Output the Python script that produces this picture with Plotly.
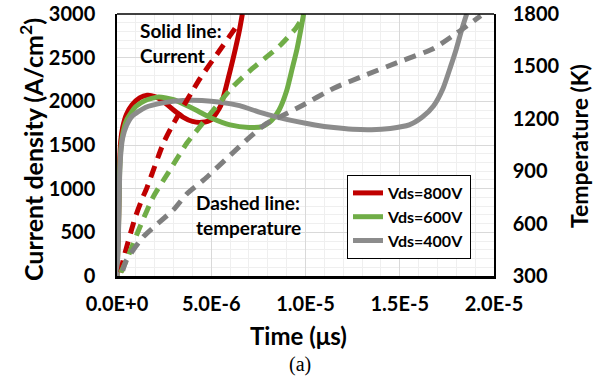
import plotly.graph_objects as go

# ---- data (time in microseconds, converted to seconds) ----
t_red = [0.0, 0.08, 0.14, 0.2, 0.3, 0.5, 0.8, 1.2, 1.6, 2.0, 2.5, 3.0, 3.5, 4.0, 4.5, 5.0, 5.5, 6.0, 6.3, 6.5, 6.65]
j_red = [0, 600, 1300, 1550, 1700, 1850, 1960, 2040, 2070, 2055, 1990, 1900, 1820, 1770, 1760, 1790, 1950, 2350, 2620, 2820, 3000]

t_green = [0.0, 0.08, 0.14, 0.2, 0.3, 0.5, 1.0, 1.5, 2.2, 3.0, 4.0, 5.0, 6.0, 7.0, 7.7, 8.2, 8.6, 9.0, 9.3, 9.55, 9.75, 9.9]
j_green = [0, 550, 1200, 1450, 1620, 1780, 1940, 2010, 2050, 2020, 1920, 1810, 1730, 1700, 1710, 1780, 1900, 2120, 2380, 2600, 2820, 3000]

t_gray = [0.0, 0.08, 0.14, 0.2, 0.3, 0.5, 0.8, 1.5, 2.5, 3.5, 4.5, 5.5, 6.5, 7.5, 8.5, 9.5, 10.5, 11.5, 12.5, 13.5, 14.5, 15.5, 16.2, 16.8, 17.3, 17.7, 18.0, 18.3, 18.55]
j_gray = [0, 500, 1150, 1400, 1580, 1720, 1830, 1930, 1985, 2010, 2010, 1990, 1950, 1880, 1820, 1770, 1730, 1700, 1680, 1675, 1690, 1730, 1820, 1950, 2150, 2400, 2600, 2830, 3000]

tt_red = [0.2, 0.33, 0.95, 1.38, 1.57, 2.46, 3.0, 4.4, 5.46, 6.15, 6.45]
temp_red = [320, 392, 630, 754, 800, 1060, 1174, 1430, 1594, 1700, 1750]

tt_green = [0.2, 0.51, 1.22, 1.93, 2.81, 3.7, 4.4, 6.15, 7.1, 8.0, 8.65, 9.5, 9.8]
temp_green = [320, 392, 582, 754, 907, 1060, 1155, 1384, 1480, 1560, 1620, 1720, 1770]

tt_gray = [0.3, 0.5, 1.4, 3.0, 3.7, 4.6, 7.06, 7.94, 8.65, 9.7, 11.5, 13.2, 15.0, 16.8, 18.0, 19.3]
temp_gray = [330, 390, 525, 680, 770, 850, 1097, 1174, 1212, 1269, 1375, 1451, 1527, 1603, 1689, 1790]

series_names = ["Vds=800V", "Vds=600V", "Vds=400V"]
colors = ["#C00000", "#70AD47", "#8C8C8C"]
dash_colors = ["#C00000", "#70AD47", "#7F7F7F"]

x_tickvals = [0, 5e-6, 1e-5, 1.5e-5, 2e-5]
x_ticktext = ["0.0E+0", "5.0E-6", "1.0E-5", "1.5E-5", "2.0E-5"]

def sec(us):
    return [v * 1e-6 for v in us]

FONT = "Lato"
fig = go.Figure()

currents = [(t_red, j_red), (t_green, j_green), (t_gray, j_gray)]
temps = [(tt_red, temp_red), (tt_green, temp_green), (tt_gray, temp_gray)]

for (tt, tv), c in zip(temps, dash_colors):
    fig.add_trace(go.Scatter(x=sec(tt), y=tv, mode="lines", yaxis="y2", showlegend=False,
                             line=dict(color=c, width=5, dash="12px,8px", shape="spline", smoothing=0.6)))

for (t, j), c, n in zip(currents, colors, series_names):
    fig.add_trace(go.Scatter(x=sec(t), y=j, mode="lines", name=n,
                             line=dict(color=c, width=5, shape="spline", smoothing=0.6)))

L, R, T, B = 117, 494, 14, 276
W, H = 600, 386

def px(x):
    return (x - L) / (R - L)

def py(y):
    return (B - y) / (B - T)

TICKF = dict(family=FONT, size=20, weight="bold")

fig.update_layout(
    width=W, height=H,
    margin=dict(l=L, r=W - R, t=T, b=H - B, autoexpand=False),
    paper_bgcolor="white", plot_bgcolor="white",
    font=dict(family=FONT, color="black"),
    xaxis=dict(range=[0, 2e-5], tickvals=x_tickvals, ticktext=x_ticktext, automargin=False,
               showgrid=True, gridcolor="#D9D9D9", gridwidth=1,
               minor=dict(dtick=1e-6, showgrid=True, gridcolor="#EFEFEF", gridwidth=1),
               tickfont=TICKF, ticks="", ticklabelstandoff=8,
               showline=True, linecolor="black", linewidth=2.5, mirror=False, zeroline=False),
    yaxis=dict(range=[0, 3000], dtick=500, showgrid=True, gridcolor="#D9D9D9", gridwidth=1,
               minor=dict(dtick=100, showgrid=True, gridcolor="#EFEFEF", gridwidth=1),
               tickfont=TICKF, automargin=False,
               ticks="", ticklabelstandoff=16, zeroline=False,
               showline=True, linecolor="black", linewidth=1.5),
    yaxis2=dict(range=[300, 1800], dtick=300, overlaying="y", side="right", automargin=False,
                showgrid=False, zeroline=False,
                tickfont=TICKF, ticks="", ticklabelstandoff=13,
                showline=True, linecolor="black", linewidth=1.5),
    legend=dict(x=px(347), y=py(175), xanchor="left", yanchor="top",
                bgcolor="white", bordercolor="black", borderwidth=1,
                font=dict(family=FONT, size=16, weight="bold"),
                itemwidth=30, tracegroupgap=0, itemsizing="constant"),
    showlegend=True,
)

# top border
fig.add_shape(type="line", xref="paper", yref="paper", x0=0, x1=1, y0=1, y1=1,
              line=dict(color="black", width=1.5))

ann = [
    dict(text="Solid line:<br>Current", x=px(138), y=py(17), xanchor="left", yanchor="top",
         align="left", font=dict(size=19, weight="bold")),
    dict(text="Dashed line:<br>temperature", x=px(194), y=py(189), xanchor="left", yanchor="top",
         align="left", font=dict(size=19, weight="bold")),
    dict(text="Current density (A/cm<sup>2</sup>)", x=px(31), y=py(150), textangle=-90,
         xanchor="center", yanchor="middle", font=dict(size=25, weight="bold")),
    dict(text="Temperature (K)", x=px(579), y=py(146), textangle=-90,
         xanchor="center", yanchor="middle", font=dict(size=23, weight="bold")),
    dict(text="Time (μs)", x=px(298), y=py(335), xanchor="center", yanchor="middle",
         font=dict(size=24, weight="bold")),
    dict(text="(a)", x=px(300), y=py(364), xanchor="center", yanchor="middle",
         font=dict(size=20, family="Liberation Serif")),
]
for a in ann:
    a.update(xref="paper", yref="paper", showarrow=False)
    a["font"].setdefault("family", FONT)
    a["font"]["color"] = "black"
    fig.add_annotation(**a)

fig.write_html("out.html", config={"displayModeBar": False},
               post_script="document.body.style.margin='0';")
